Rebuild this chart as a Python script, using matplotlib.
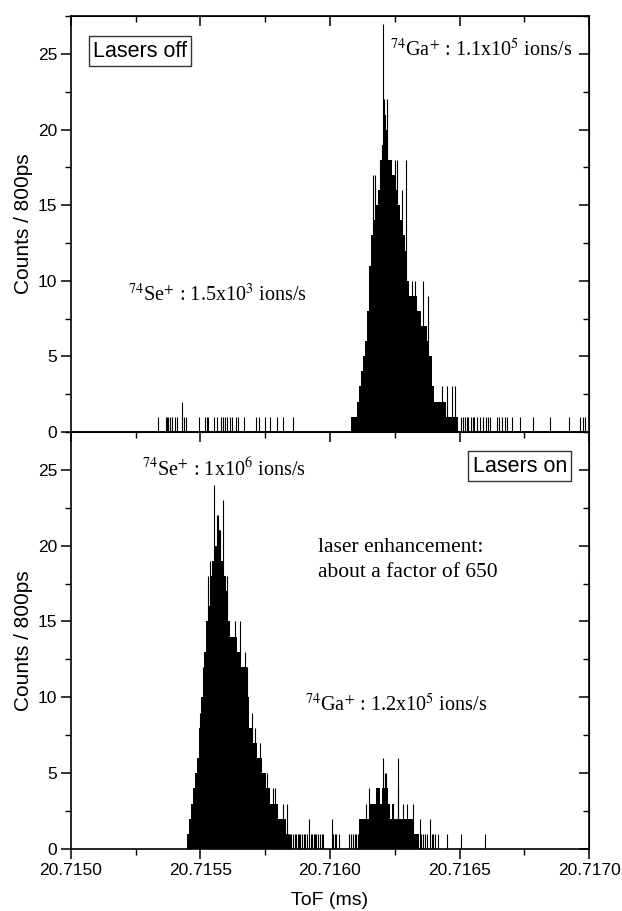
import matplotlib
matplotlib.use('Agg')
import matplotlib.pyplot as plt
import numpy as np
from matplotlib.ticker import MultipleLocator, FormatStrFormatter

plt.rcParams['mathtext.fontset'] = 'stix'
SANS = 'Liberation Sans'
SERIF = 'Liberation Serif'

# ---------------- data (ToF offsets in ns from 20.7150 ms) ----------------
T0 = 20.7150          # ms
STEP = 8.0            # ns, width of each fill-profile step

# Lasers off : 74Ga+ peak
off_ga_start = 1080
off_ga_fill = [1, 1, 1, 2, 3, 4, 5, 6, 8, 11, 13, 14, 15, 16, 18, 19, 21, 20, 18, 18,
               17, 17, 16, 15, 14, 13, 12, 10, 9, 9, 9, 9, 8, 8, 7, 7, 7, 6, 5, 3,
               2, 2, 2, 2, 2, 2, 1, 1, 1, 1, 1, 1]
off_spike_t = [1164.8, 1173.8, 1193.1, 1199.5, 1206.0, 1209.8, 1216.3, 1221.4, 1251.0,
               1257.4, 1276.7, 1293.5, 1315.4, 1328.0, 1360.4, 1379.7, 1431.2, 1450.5,
               1469.8, 1482.7, 427.3]
off_spike_n = [17, 17, 18, 19, 27, 22, 20, 22, 18, 18, 16, 18, 10, 10, 10, 9, 3, 3, 3, 3, 2]
off_single_t = [337.2, 365.5, 369.4, 375.8, 382.3, 388.7, 401.6, 410.6, 436.3, 442.8,
                494.2, 517.4, 523.8, 530.3, 553.4, 562.4, 577.9, 585.6, 594.6, 603.6,
                613.9, 622.9, 637.1, 646.1, 669.3, 714.3, 725.9, 749.1, 768.4, 794.1,
                817.3, 858.5,
                1504.5, 1512.3, 1520.0, 1527.7, 1534.2, 1543.1, 1550.9, 1556.0, 1566.3,
                1579.2, 1589.5, 1602.3, 1611.4, 1617.8, 1646.1, 1653.8, 1662.8, 1675.7,
                1682.1, 1701.4, 1733.6, 1785.0, 1849.5, 1924.1, 1965.3, 1975.6, 1984.6]

# Lasers on : 74Se+ peak
on_se_start = 448
on_se_fill = [1, 2, 3, 4, 5, 6, 8, 10, 13, 15, 16, 18, 19, 20, 20, 21, 19, 19, 18, 17,
              15, 14, 14, 14, 13, 13, 12, 12, 12, 10, 8, 8, 7, 7, 6, 6, 5, 5, 4, 4,
              3, 3, 3, 3, 2, 2, 2, 2, 1]
on_se_spike_t = [498.0, 511.0, 530.3, 536.7, 553.4, 562.4, 568.9, 575.3, 588.2, 601.1,
                 633.2, 652.5, 671.8, 678.3, 697.6, 710.4, 729.8, 755.5, 778.7, 787.7,
                 813.4, 819.9, 832.7]
on_se_spike_n = [9, 12, 18, 19, 24, 22, 22, 21, 23, 18, 15, 15, 13, 12, 9, 8, 7, 5, 4, 4,
                 2, 3, 3]

# Lasers on : 74Ga+ peak
on_ga_start = 1112
on_ga_fill = [2, 2, 2, 2, 2, 3, 3, 3, 4, 4, 3, 4, 4, 4, 3, 2, 3, 2, 2, 2, 2, 2, 2, 2,
              2, 2, 1, 1, 1]
on_ga_spike_t = [1141, 1152, 1162, 1206, 1212, 1218, 1245, 1261, 1264, 1281, 1296, 1322,
                 1347, 1386, 919, 1006]
on_ga_spike_n = [3, 4, 3, 6, 5, 5, 3, 6, 4, 3, 3, 3, 2, 2, 2, 2]
on_single_t = [835, 840, 846, 851, 858, 864, 869, 875, 881, 886, 893, 899, 905, 912,
               925, 931, 937, 943, 948, 955, 962, 968, 974, 1013, 1018, 1023, 1036,
               1075, 1080, 1087, 1095, 1101, 1107, 1113, 1352, 1360, 1366, 1373, 1393,
               1399, 1405, 1418, 1450, 1504, 1598]

x_ticks = [20.7150, 20.7155, 20.7160, 20.7165, 20.7170]
y_ticks = [0, 5, 10, 15, 20, 25]

# ---------------- figure ----------------
fig = plt.figure(figsize=(6.22, 9.11), dpi=100)
ax1 = fig.add_axes([0.114, 0.526, 0.833, 0.456])
ax2 = fig.add_axes([0.114, 0.068, 0.833, 0.458])


def to_ms(t):
    return T0 + np.asarray(t, dtype=float) * 1e-6


def draw_peak(ax, start, fill):
    edges = to_ms(start + STEP * np.arange(len(fill) + 1))
    ax.stairs(fill, edges, fill=True, color='black', lw=0)


def draw_lines(ax, t, n):
    ax.vlines(to_ms(t), 0, n, color='black', lw=0.8)


draw_peak(ax1, off_ga_start, off_ga_fill)
draw_lines(ax1, off_spike_t, off_spike_n)
draw_lines(ax1, off_single_t, np.ones(len(off_single_t)))

draw_peak(ax2, on_se_start, on_se_fill)
draw_peak(ax2, on_ga_start, on_ga_fill)
draw_lines(ax2, on_se_spike_t, on_se_spike_n)
draw_lines(ax2, on_ga_spike_t, on_ga_spike_n)
draw_lines(ax2, on_single_t, np.ones(len(on_single_t)))

for ax in (ax1, ax2):
    ax.set_xlim(x_ticks[0], x_ticks[-1])
    ax.set_ylim(0, 27.5)
    ax.set_xticks(x_ticks)
    ax.set_yticks(y_ticks)
    ax.xaxis.set_minor_locator(MultipleLocator(0.00025))
    ax.yaxis.set_minor_locator(MultipleLocator(2.5))
    ax.xaxis.set_major_formatter(FormatStrFormatter('%.4f'))
    ax.tick_params(axis='both', which='major', length=7, width=1.1, labelsize=12.5,
                   direction='out', pad=3)
    ax.tick_params(axis='both', which='minor', length=4, width=1.0, direction='out')
    for lab in ax.get_xticklabels() + ax.get_yticklabels():
        lab.set_fontfamily(SANS)
    for sp in ax.spines.values():
        sp.set_linewidth(1.2)
    ax.set_ylabel('Counts / 800ps', fontfamily=SANS, fontsize=15, labelpad=3)
    # mirrored ticks on top/right (inward)
    secx = ax.secondary_xaxis('top')
    secx.set_xticks(x_ticks)
    secx.xaxis.set_minor_locator(MultipleLocator(0.00025))
    secx.tick_params(which='major', direction='in', length=7, width=1.1, labeltop=False)
    secx.tick_params(which='minor', direction='in', length=4, width=1.0)
    secy = ax.secondary_yaxis('right')
    secy.set_yticks(y_ticks)
    secy.yaxis.set_minor_locator(MultipleLocator(2.5))
    secy.tick_params(which='major', direction='in', length=7, width=1.1, labelright=False)
    secy.tick_params(which='minor', direction='in', length=4, width=1.0)

ax1.tick_params(axis='x', labelbottom=False)
ax2.set_xlabel('ToF (ms)', fontfamily=SANS, fontsize=14, labelpad=10)

box = dict(boxstyle='square,pad=0.2', fc='white', ec='#333333', lw=1.0)
ax1.text(0.043, 0.916, 'Lasers off', transform=ax1.transAxes, fontfamily=SANS,
         fontsize=15.5, va='center', ha='left', bbox=box)
ax2.text(0.957, 0.918, 'Lasers on', transform=ax2.transAxes, fontfamily=SANS,
         fontsize=15.5, va='center', ha='right', bbox=box)

ser = dict(fontfamily=SERIF, fontsize=14.5)
ax1.text(0.967, 0.918, r'$^{74}$Ga$^{+}$ : 1.1x10$^{5}$ ions/s', transform=ax1.transAxes,
         ha='right', va='center', **ser)
ax1.text(0.11, 0.33, r'$^{74}$Se$^{+}$ : 1.5x10$^{3}$ ions/s', transform=ax1.transAxes,
         ha='left', va='center', **ser)
ax2.text(0.137, 0.91, r'$^{74}$Se$^{+}$ : 1x10$^{6}$ ions/s', transform=ax2.transAxes,
         ha='left', va='center', **ser)
ax2.text(0.477, 0.693, 'laser enhancement:\nabout a factor of 650', transform=ax2.transAxes,
         ha='left', va='center', linespacing=1.4, fontfamily=SERIF, fontsize=15.5)
ax2.text(0.452, 0.345, r'$^{74}$Ga$^{+}$ : 1.2x10$^{5}$ ions/s', transform=ax2.transAxes,
         ha='left', va='center', **ser)

fig.savefig('out.png', dpi=100)
